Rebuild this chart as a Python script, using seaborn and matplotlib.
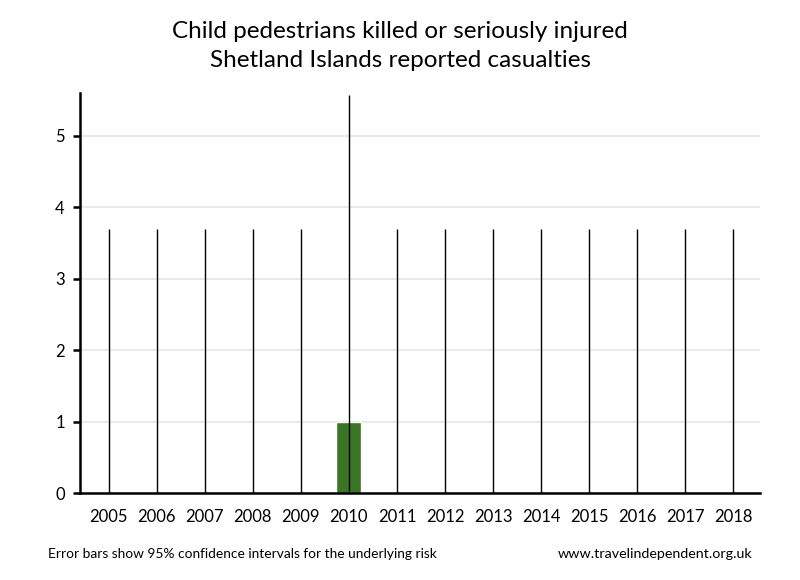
import matplotlib
matplotlib.use("Agg")
import matplotlib.pyplot as plt
import seaborn as sns
import pandas as pd
import numpy as np

years = ["2005", "2006", "2007", "2008", "2009", "2010", "2011", "2012",
         "2013", "2014", "2015", "2016", "2017", "2018"]
casualties = [0, 0, 0, 0, 0, 1, 0, 0, 0, 0, 0, 0, 0, 0]
ci_lower = [0, 0, 0, 0, 0, 0.025, 0, 0, 0, 0, 0, 0, 0, 0]
ci_upper = [3.69, 3.69, 3.69, 3.69, 3.69, 5.57, 3.69, 3.69, 3.69, 3.69, 3.69, 3.69, 3.69, 3.69]

sns.set_style("white")
plt.rcParams['font.family'] = ['Lato', 'DejaVu Sans']
plt.rcParams['text.color'] = 'black'
plt.rcParams['xtick.color'] = 'black'
plt.rcParams['ytick.color'] = 'black'
plt.rcParams['xtick.labelcolor'] = 'black'
plt.rcParams['ytick.labelcolor'] = 'black'

df = pd.DataFrame({"year": years, "value": casualties})

fig = plt.figure(figsize=(8, 5.8), dpi=100)
ax = fig.add_axes([0.1, 0.15, 0.85, 0.6897])

sns.barplot(data=df, x="year", y="value", color="#3a7526", width=0.52,
            saturation=1, ax=ax, zorder=2)

xs = np.arange(len(years))
vals = np.array(casualties, dtype=float)
lo = vals - np.array(ci_lower)
hi = np.array(ci_upper) - vals
ax.errorbar(xs, vals, yerr=[lo, hi], fmt="none", ecolor="black",
            elinewidth=1, capsize=0, zorder=3)

ax.set_xlim(-0.6, len(years) - 0.44)
ax.set_ylim(0, 5.6)
ax.set_yticks([0, 1, 2, 3, 4, 5])
ax.yaxis.grid(True, color="#e6e6e6", linewidth=1.2, zorder=0)
ax.set_axisbelow(True)
ax.set_xlabel("")
ax.set_ylabel("")

for s in ["top", "right"]:
    ax.spines[s].set_visible(False)
ax.spines["left"].set_color("black")
ax.spines["left"].set_linewidth(1.8)
ax.spines["bottom"].set_color("black")
ax.spines["bottom"].set_linewidth(1.8)

ax.tick_params(axis="y", left=True, length=5, width=1.8, color="black",
               labelcolor="black", labelsize=12, pad=6)
ax.tick_params(axis="x", bottom=False, labelcolor="black", labelsize=12, pad=8)

fig.text(0.5, 0.921, "Child pedestrians killed or seriously injured\nShetland Islands reported casualties",
         ha="center", va="center", fontsize=17.5, linespacing=1.45, color="black")
fig.text(0.06, 0.045, "Error bars show 95% confidence intervals for the underlying risk",
         ha="left", va="center", fontsize=9.9, color="black")
fig.text(0.94, 0.045, "www.travelindependent.org.uk",
         ha="right", va="center", fontsize=10.3, color="black")

fig.savefig("out.png", dpi=100)
